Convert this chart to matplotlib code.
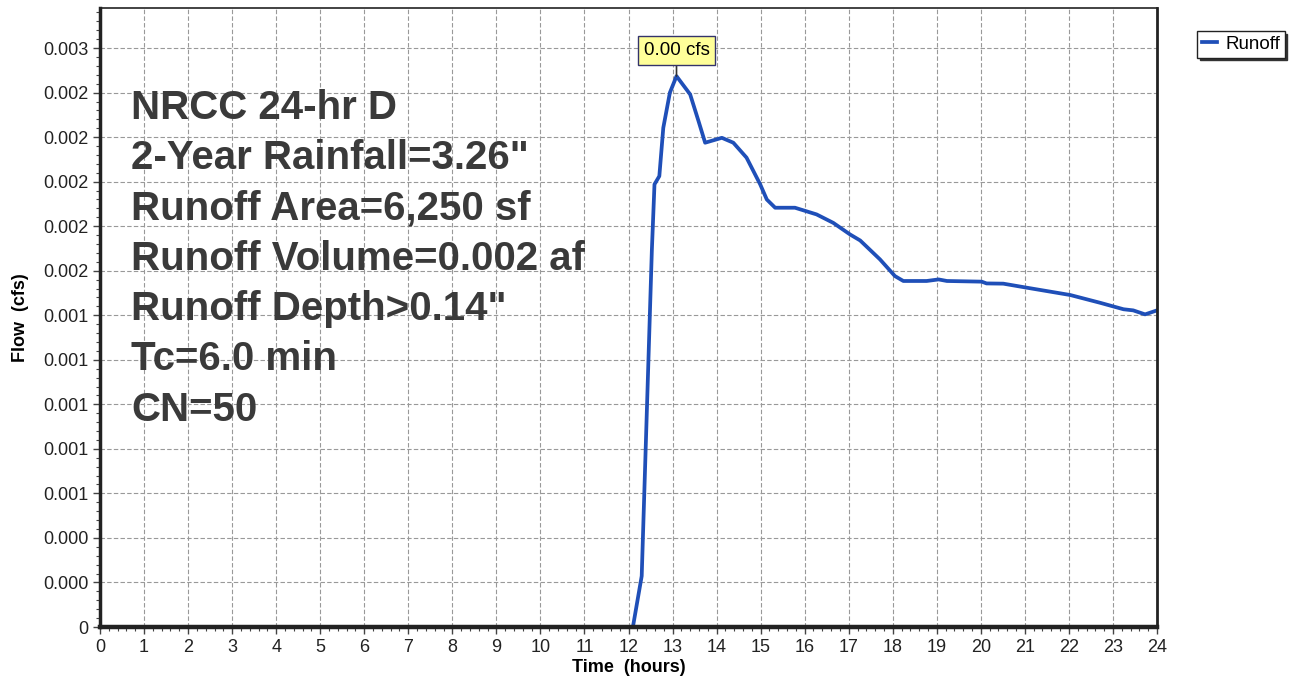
import numpy as np
import matplotlib
matplotlib.use('Agg')
import matplotlib.pyplot as plt
from matplotlib.ticker import MultipleLocator, FixedLocator

plt.rcParams['font.family'] = ['Liberation Sans', 'DejaVu Sans']

# hydrograph
hours = [0, 12.10, 12.30, 12.53, 12.59, 12.70, 12.79, 12.94, 13.09, 13.40, 13.59,
         13.74, 14.12, 14.38, 14.68, 14.99, 15.14, 15.33, 15.78, 16.27, 16.65,
         17.03, 17.26, 17.71, 18.05, 18.24, 18.77, 19.04, 19.23, 20.02, 20.13,
         20.51, 21.04, 22.03, 22.71, 23.24, 23.46, 23.73, 24.0]
flow = [0, 0, 0.000229, 0.00169, 0.001988, 0.002025, 0.002242, 0.0024, 0.002474,
        0.002392, 0.002272, 0.002175, 0.002197, 0.002175, 0.002108, 0.001988,
        0.00192, 0.001883, 0.001883, 0.001853, 0.001815, 0.001763, 0.001736,
        0.001651, 0.001576, 0.001554, 0.001554, 0.001561, 0.001554, 0.001551,
        0.001543, 0.001542, 0.001524, 0.001491, 0.001456, 0.001427, 0.001422,
        0.001404, 0.001422]

yticks = [i * 0.0002 for i in range(14)]
ylabels = ['0'] + ['%.3f' % v for v in yticks[1:]]

info_lines = ['NRCC 24-hr D', '2-Year Rainfall=3.26"', 'Runoff Area=6,250 sf',
              'Runoff Volume=0.002 af', 'Runoff Depth>0.14"', 'Tc=6.0 min', 'CN=50']
peak_label = '0.00 cfs'

W, H = 1294, 681
fig = plt.figure(figsize=(W / 100, H / 100), dpi=100)
ax = fig.add_axes([100 / W, 1 - 627 / H, 1057 / W, 619 / H])

line_color = '#1f4fb8'
ax.plot(hours, flow, color=line_color, lw=2.7, solid_joinstyle='round', label='Runoff', zorder=3)

ax.set_xlim(0, 24)
ax.set_ylim(0, 0.00278)
ax.xaxis.set_major_locator(MultipleLocator(1))
ax.xaxis.set_minor_locator(MultipleLocator(0.2))
ax.yaxis.set_major_locator(FixedLocator(yticks))
ax.yaxis.set_minor_locator(MultipleLocator(0.00004))
ax.set_yticklabels(ylabels)
ax.tick_params(axis='both', which='major', labelsize=13, length=5, width=1, color='#444444',
               labelcolor='#222222')
ax.tick_params(axis='both', which='minor', length=3, width=0.8, color='#444444')
ax.grid(True, which='major', color='#999999', lw=0.8, ls=(0, (4, 2)))

for side, w in [('left', 2.5), ('bottom', 3.2), ('right', 2), ('top', 1.2)]:
    ax.spines[side].set_linewidth(w)
    ax.spines[side].set_color('#222222')
    ax.spines[side].set_zorder(5)

ax.set_xlabel('Time  (hours)', fontsize=13, fontweight='bold', labelpad=2)
ax.set_ylabel('Flow  (cfs)', fontsize=13, fontweight='bold', labelpad=10)

# info block
for i, txt in enumerate(info_lines):
    ax.text(131 / W, 1 - (108 + i * 50.3) / H, txt, transform=fig.transFigure,
            fontsize=29, fontweight='bold', color='#3a3a3a', va='center', ha='left')

# peak callout
ipk = int(np.argmax(flow))
ax.annotate(peak_label, xy=(hours[ipk], flow[ipk]), xytext=(hours[ipk], 0.00259),
            ha='center', va='center', fontsize=13.5,
            bbox=dict(boxstyle='square,pad=0.32', fc='#ffff99', ec='#33336b', lw=1),
            arrowprops=dict(arrowstyle='-', color='#333333', lw=1.2, shrinkA=0, shrinkB=0))

leg = ax.legend(loc='upper left', bbox_to_anchor=(1197 / W, 1 - 31 / H),
                bbox_transform=fig.transFigure, fontsize=13.5, frameon=True,
                fancybox=False, shadow={'color': '#333333', 'alpha': 1}, handlelength=0.8,
                handletextpad=0.45, borderpad=0.25, borderaxespad=0)
leg.get_frame().set_edgecolor('#222222')
leg.get_frame().set_linewidth(1)

fig.savefig('out.png', dpi=100)
